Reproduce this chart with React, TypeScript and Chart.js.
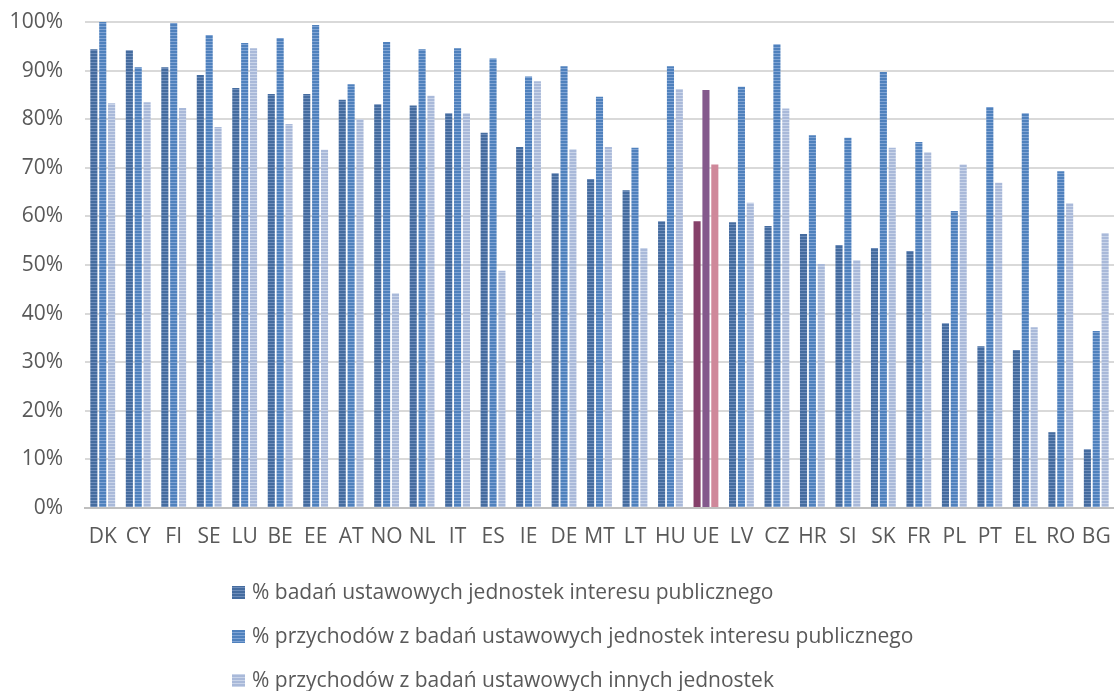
import React, { useEffect, useRef } from 'react';
import { Chart, registerables } from 'chart.js';

Chart.register(...registerables);

const categories = ['DK', 'CY', 'FI', 'SE', 'LU', 'BE', 'EE', 'AT', 'NO', 'NL', 'IT', 'ES', 'IE', 'DE', 'MT', 'LT', 'HU', 'UE', 'LV', 'CZ', 'HR', 'SI', 'SK', 'FR', 'PL', 'PT', 'EL', 'RO', 'BG'];

const seriesNames = [
  '% badań ustawowych jednostek interesu publicznego',
  '% przychodów z badań ustawowych jednostek interesu publicznego',
  '% przychodów z badań ustawowych innych jednostek',
];

const auditsPIE = [94.4, 94.2, 90.7, 89.1, 86.4, 85.2, 85.2, 84.0, 83.1, 82.8, 81.2, 77.2, 74.3, 68.9, 67.7, 65.4, 59.0, 59.0, 58.8, 58.0, 56.4, 54.1, 53.5, 52.9, 38.0, 33.3, 32.5, 15.6, 12.1];
const revenuePIE = [100, 90.7, 99.8, 97.3, 95.7, 96.7, 99.4, 87.2, 95.9, 94.4, 94.6, 92.5, 88.8, 90.9, 84.6, 74.1, 90.9, 86.0, 86.7, 95.4, 76.7, 76.2, 89.7, 75.3, 61.1, 82.5, 81.2, 69.3, 36.4];
const revenueOther = [83.3, 83.5, 82.3, 78.4, 94.6, 79.0, 73.7, 80.0, 44.2, 84.8, 81.2, 48.8, 87.8, 73.8, 74.3, 53.5, 86.2, 70.7, 62.8, 82.2, 50.2, 51.0, 74.1, 73.2, 70.7, 66.9, 37.2, 62.7, 56.6];

const highlightCategory = 'UE';

const FONT = '"Open Sans", "Noto Sans", sans-serif';
const TEXT = '#595959';
const FS = 21;

function stripe(base: string, light: string) {
  const c = document.createElement('canvas');
  c.width = 4;
  c.height = 3;
  const x = c.getContext('2d')!;
  x.fillStyle = base;
  x.fillRect(0, 0, 4, 3);
  x.fillStyle = light;
  x.fillRect(0, 2, 4, 1);
  return x.createPattern(c, 'repeat');
}

export default function App() {
  const ref = useRef<HTMLCanvasElement>(null);

  useEffect(() => {
    const patterns = [
      stripe('#456C9F', '#6F8EBB'),
      stripe('#4F81BD', '#80A4D4'),
      stripe('#A9B9D9', '#C9D4E9'),
    ];
    const ueColors = ['#86416A', '#84598C', '#CF889A'];
    const values = [auditsPIE, revenuePIE, revenueOther];

    const legendPlugin = {
      id: 'customLegend',
      afterDraw(chart: any) {
        const ctx = chart.ctx;
        ctx.save();
        ctx.font = FS + 'px ' + FONT;
        ctx.textBaseline = 'middle';
        ctx.textAlign = 'left';
        seriesNames.forEach((name, i) => {
          const y = 593 + i * 44;
          ctx.fillStyle = patterns[i];
          ctx.fillRect(232, y - 7, 13, 13);
          ctx.fillStyle = TEXT;
          ctx.fillText(name, 252, y);
        });
        ctx.restore();
      },
    };

    const chart = new Chart(ref.current!, {
      type: 'bar',
      data: {
        labels: categories,
        datasets: values.map((v, i) => ({
          label: seriesNames[i],
          data: v,
          backgroundColor: categories.map((c) => (c === highlightCategory ? ueColors[i] : patterns[i])),
          borderWidth: 0,
          categoryPercentage: 0.75,
          barPercentage: 0.8,
        })),
      },
      options: {
        animation: false,
        responsive: true,
        maintainAspectRatio: false,
        layout: { padding: { top: 22, right: 0, left: 0, bottom: 141 } },
        plugins: {
          legend: { display: false },
          tooltip: { enabled: false },
        },
        scales: {
          x: {
            grid: { display: false, drawTicks: false },
            border: { display: true, color: '#BFBFBF', width: 2 },
            ticks: { color: TEXT, font: { family: FONT, size: FS }, padding: 16, maxRotation: 0, autoSkip: false },
            afterFit: (s: any) => { s.height = 42; s.paddingLeft = 0; s.paddingRight = 0; },
          },
          y: {
            min: 0,
            max: 100,
            grid: { color: '#D9D9D9', lineWidth: 2, drawTicks: false },
            border: { display: false },
            ticks: {
              stepSize: 10,
              color: TEXT,
              font: { family: FONT, size: FS },
              padding: 22,
              callback: (v: any) => v + '%',
            },
            afterFit: (s: any) => { s.width = 85; s.paddingTop = 0; s.paddingBottom = 0; },
          },
        },
      },
      plugins: [legendPlugin],
    });
    return () => chart.destroy();
  }, []);

  return (
    <div style={{ position: 'absolute', left: 0, top: 0, width: 1114, height: 691, background: '#fff' }}>
      <canvas ref={ref} />
    </div>
  );
}
